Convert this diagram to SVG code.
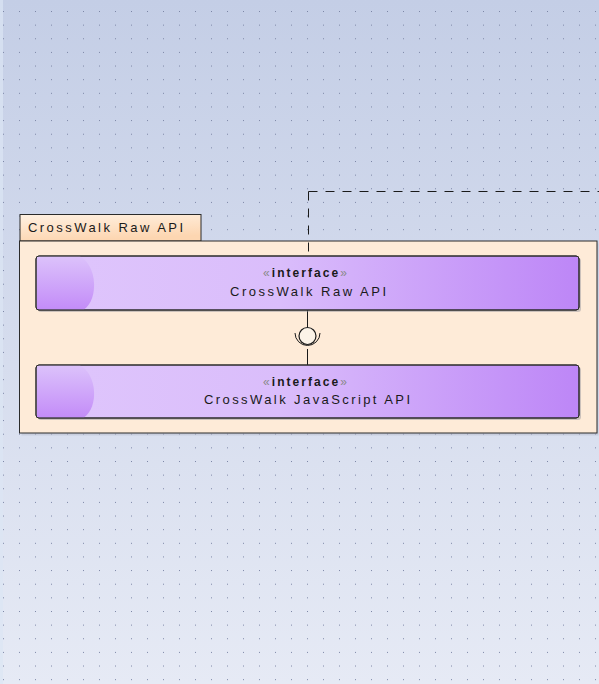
<svg xmlns="http://www.w3.org/2000/svg" width="599" height="684" viewBox="0 0 599 684">
<style>
.box{stroke:#2b2b2b;stroke-width:1}
.lbl{font-family:"Liberation Sans",Arial,sans-serif;font-size:13px;fill:#1a1a1a}
.st{font-family:"Liberation Sans",Arial,sans-serif;font-size:12px;font-weight:bold;fill:#1a1a1a}
.gu{fill:#8a8a8a;font-weight:normal}
.conn{stroke:#1a1a1a;stroke-width:1;fill:none}
</style>
<defs>
<linearGradient id="bg" x1="0" y1="0" x2="0" y2="1">
<stop offset="0" stop-color="#c4cee6"/>
<stop offset="1" stop-color="#e6eaf5"/>
</linearGradient>
<pattern id="dots" patternUnits="userSpaceOnUse" x="3" y="11" width="16" height="13.636">
<rect x="0" y="0" width="1" height="1" fill="#7c86a6"/>
</pattern>
<linearGradient id="ifc" x1="0" y1="0" x2="1" y2="0">
<stop offset="0" stop-color="#dfc6fc"/>
<stop offset="0.45" stop-color="#dabdfb"/>
<stop offset="1" stop-color="#bd86f7"/>
</linearGradient>
<linearGradient id="hl" x1="0" y1="0" x2="0" y2="1">
<stop offset="0" stop-color="#dcc2fb"/>
<stop offset="1" stop-color="#c38cf8"/>
</linearGradient>
<linearGradient id="tab" x1="0" y1="0" x2="0.3" y2="1">
<stop offset="0" stop-color="#fff1e2"/>
<stop offset="1" stop-color="#fdd6b1"/>
</linearGradient>
</defs>
<rect width="599" height="684" fill="url(#bg)"/>
<rect x="0" y="0" width="3" height="684" fill="#dbe6f4" opacity="0.7"/>
<rect width="599" height="684" fill="url(#dots)"/>

<g id="package">
<rect x="21.5" y="243.5" width="577" height="192" fill="#b8bccb" opacity="0.5"/>
<rect x="20" y="214.5" width="181" height="26.5" class="box" fill="url(#tab)"/>
<rect x="19.5" y="241" width="577.5" height="192" class="box" fill="#feebd8"/>
<text class="lbl" x="28" y="232" textLength="155" lengthAdjust="spacing">CrossWalk Raw API</text>
</g>

<g id="connectors">
<path class="conn" d="M308.5,191.5 H599" stroke-dasharray="9,8"/>
<path class="conn" d="M308.5,191.5 V256" stroke-dasharray="9,8"/>
<path class="conn" d="M307.5,310 V327.5"/>
<path class="conn" d="M307.5,349 V365"/>
<path class="conn" d="M295,333 A12.5,12.5 0 0 0 320,333" stroke-width="1.3"/>
<circle cx="307.5" cy="336" r="8.5" fill="#fbf3e8" stroke="#1a1a1a" stroke-width="1.2"/>
</g>

<g id="raw-api">
<rect x="38" y="258" width="543" height="54" rx="3" fill="#8e8e99" opacity="0.45"/>
<rect x="36" y="256" width="543" height="54" rx="3" class="box" fill="url(#ifc)"/>
<path d="M37,256.5 H80 C97,265 99,299 84,309.5 H37 Z" fill="url(#hl)"/>
<rect x="36" y="256" width="543" height="54" rx="3" class="box" fill="none"/>
<text class="st" x="263" y="277" textLength="84" lengthAdjust="spacing"><tspan class="gu">«</tspan>interface<tspan class="gu">»</tspan></text>
<text class="lbl" x="230" y="295.5" textLength="156" lengthAdjust="spacing">CrossWalk Raw API</text>
</g>

<g id="js-api">
<rect x="38" y="367" width="543" height="53" rx="3" fill="#8e8e99" opacity="0.45"/>
<rect x="36" y="365" width="543" height="53" rx="3" class="box" fill="url(#ifc)"/>
<path d="M37,365.5 H80 C97,374 99,407 84,417.5 H37 Z" fill="url(#hl)"/>
<rect x="36" y="365" width="543" height="53" rx="3" class="box" fill="none"/>
<text class="st" x="263" y="386" textLength="84" lengthAdjust="spacing"><tspan class="gu">«</tspan>interface<tspan class="gu">»</tspan></text>
<text class="lbl" x="204" y="404" textLength="206" lengthAdjust="spacing">CrossWalk JavaScript API</text>
</g>
</svg>
